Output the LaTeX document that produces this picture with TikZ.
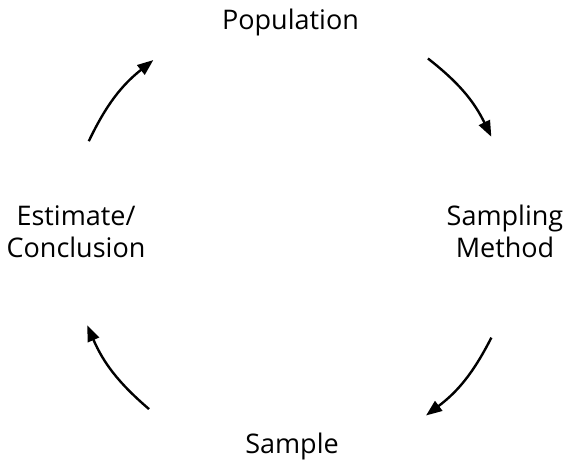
\documentclass[tikz,border=0pt]{standalone}
\usepackage{fontspec}
\setmainfont{Open Sans}
\usepackage{tikz}
\usetikzlibrary{arrows.meta}

\tikzset{
  stage/.style={inner sep=0pt, align=center, anchor=base, font=\fontsize{27}{32}\selectfont},
  cyc/.style={line width=2.4pt, -{Triangle[length=16pt,width=12pt]}}
}

\begin{document}
\begin{tikzpicture}[x=1pt, y=1pt]
  \useasboundingbox (0,0) rectangle (567,461);
  \coordinate (ctr) at (290,226);
  % the four stages
  \node[stage] (pop) at (290.5,431) {Population};
  \node[stage] (meth) at (505,204) {Sampling\\Method};
  \node[stage] (smp) at (292,8) {Sample};
  \node[stage] (est) at (76,204) {Estimate/\\Conclusion};
  % arrow ends on the circle
  \coordinate (p1) at ([shift={(52:224)}]ctr);
  \coordinate (q1) at ([shift={(26:224)}]ctr);
  \coordinate (p2) at ([shift={(-27:226)}]ctr);
  \coordinate (q2) at ([shift={(-53:226)}]ctr);
  \coordinate (p3) at ([shift={(231:224)}]ctr);
  \coordinate (q3) at ([shift={(204:222)}]ctr);
  \coordinate (p4) at ([shift={(155:222)}]ctr);
  \coordinate (q4) at ([shift={(128:222)}]ctr);
  \path[cyc]
  (p1) edge[bend left=13] (q1)
  (p2) edge[bend left=13] (q2)
  (p3) edge[bend left=13] (q3)
  (p4) edge[bend left=13] (q4)
  ;
\end{tikzpicture}
\end{document}
